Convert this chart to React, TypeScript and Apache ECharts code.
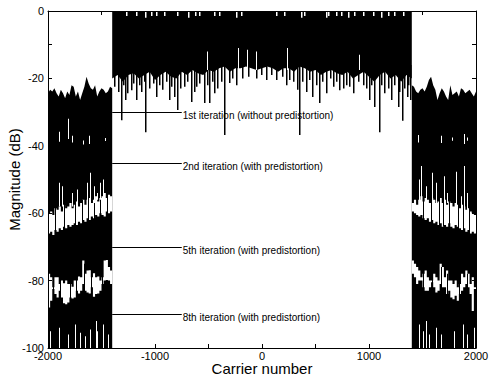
import React, { useEffect, useRef } from "react";
import * as echarts from "echarts";

const FONT = '"Liberation Sans", Arial, Helvetica, sans-serif';

// ---- axes ----
const xMin = -2000;
const xMax = 2000;
const xInterval = 500;
const xLabelEvery = 1000;
const yMin = -100;
const yMax = 0;
const yInterval = 10;
const yLabelEvery = 20;
const xTitle = "Carrier number";
const yTitle = "Magnitude (dB)";

// ---- in-band (carriers -1400..1400): dense part from 0 dB down to a floor ----
const inBandStart = -1400;
const inBandStep = 50;
const inBandFloor = [
  -20, -19, -21, -19, -18.5, -20, -19, -18, -20.5, -19, -18, -19.5, -20, -18, -19,
  -17.5, -18.5, -19, -17.5, -18, -17, -16.5, -18, -17, -17, -16.5, -17, -17.5, -17,
  -16.5, -17, -18, -17, -17, -18, -16.5, -17, -18, -17.5, -19, -18, -17.5, -18.5,
  -19, -18, -20, -19, -18, -19.5, -21, -19, -18, -20, -19, -21, -19, -20,
];
// downward spikes below the in-band floor: [carrier, lowest dB]
const inBandSpikes: number[][] = [
  [-1374, -22.5], [-1340, -24], [-1311, -32.4], [-1290, -22], [-1271, -26.4], [-1252, -24.4],
  [-1218, -23.5], [-1195, -21.5], [-1171, -26.4], [-1145, -22], [-1124, -24], [-1100, -21],
  [-1084, -36], [-1047, -23], [-1010, -21.5], [-984, -25.5], [-955, -22], [-925, -23.4],
  [-890, -21], [-860, -26.4], [-840, -22.5], [-813, -25.5], [-792, -29.4], [-760, -23],
  [-720, -22.5], [-690, -21], [-657, -27], [-630, -24], [-610, -22.5], [-580, -21.5],
  [-533, -27.3], [-510, -22], [-486, -27.3], [-460, -21], [-439, -24.4], [-410, -23],
  [-380, -21], [-346, -36.8], [-299, -21.4], [-270, -20], [-236, -22], [-178, -20],
  [-120, -19.5], [-50, -20], [0, -19], [44, -20.5], [90, -19], [137, -20.5], [190, -19.5],
  [231, -22], [262, -20.5], [300, -21], [336, -23.4], [355, -36.8], [380, -21], [418, -24],
  [450, -20.5], [477, -25.5], [510, -22], [542, -27.3], [570, -21], [605, -24.4], [640, -20],
  [666, -22.5], [700, -21], [729, -23.5], [760, -23], [792, -22], [820, -22.5], [853, -24.4],
  [900, -21], [947, -22], [980, -23], [1009, -26.4], [1030, -22], [1056, -28.5], [1096, -36],
  [1120, -22], [1150, -24.4], [1180, -23], [1212, -26.4], [1240, -22], [1274, -28.5],
  [1290, -24], [1315, -32.6], [1335, -23], [1358, -25.5], [1375, -22], [1390, -26.4],
];
// white gaps reaching up into the in-band block: [carrier, highest dB]
const inBandWhiteUp: number[][] = [
  [-514, -12], [-215, -11], [-131, -11.5], [-47, -12], [234, -11], [907, -13],
];
// small white notches under the 0 dB edge: [carrier, depth dB]
const inBandTopNotches: number[][] = [
  [-1265, -1.5], [-1171, -1.5], [-1084, -2], [-1031, -1.5], [-984, -1.5], [-907, -1.5],
  [-791, -1.5], [-682, -2], [-617, -1.5], [-586, -1.5], [-439, -1.5], [-393, -1.5],
  [-237, -2], [-190, -1.5], [137, -1.5], [215, -1.5], [371, -2], [402, -1.5], [605, -2],
  [620, -1.5], [698, -1.5], [745, -1.5], [807, -2], [869, -1.5], [947, -1.5], [1040, -1.5],
  [1119, -2], [1181, -1.5], [1243, -1.5], [1321, -1.5],
];

// ---- out-of-band: black from -100 dB up to an upper envelope ----
const outStep = 20;
const outLeftStart = -2000;
const outLeftTop = [
  -24.4, -23.4, -23.9, -22.9, -24.4, -25.4, -23.4, -24.4, -25.9, -23.9, -24.9, -22, -22.5,
  -25.4, -23.9, -26.4, -24.4, -22.5, -19.5, -21.5, -22.9, -23.4, -22, -25.4, -23.9, -22.9,
  -23.4, -24.4, -23.9, -22.5, -22.9,
];
const outRightStart = 1400;
const outRightTop = [
  -22, -22.5, -23.9, -24.4, -23.4, -22.9, -23.9, -22.5, -20.5, -19.5, -22, -23.4, -26.4,
  -24.4, -22.9, -23.9, -25.4, -26.4, -22, -24.9, -24.4, -23.9, -25.4, -22.9, -23.4, -24.4,
  -23.9, -23.4, -24.4, -25.4, -23.9,
];

// white gaps near -60 dB (between 2nd and 5th iteration)
const holeStep = 20;
const midLeftTop = [
  -60, -59.5, -60.5, -58.5, -59, -58, -59.5, -57.5, -58.5, -58, -57, -58.5, -57.5, -56.5,
  -58, -57, -56, -57.5, -56, -55.5, -57, -56, -55, -56.5, -55.5, -55, -54, -55.5, -54.5, -55,
];
const midLeftBottom = [
  -66, -65.5, -66.5, -65, -65.5, -64.5, -65, -64, -64.5, -63.5, -64, -63.5, -63, -63.5,
  -62.5, -63, -62, -62.5, -61.5, -62, -61, -61.5, -60.5, -61, -60, -60.5, -61, -59.5, -60, -59.5,
];
const midRightTop = [
  -57, -56, -57.5, -56, -55, -56.5, -55.5, -56, -57, -55.5, -56, -57, -56.5, -55.5, -57,
  -56, -57.5, -56.5, -57, -58, -57, -57.5, -58.5, -57.5, -58, -59, -58.5, -59.5, -60, -60.5,
];
const midRightBottom = [
  -59.5, -60, -60.5, -61, -60.5, -61.5, -62, -61.5, -62.5, -62, -63, -62.5, -63.5, -63,
  -64, -63.5, -64, -63, -64, -64.5, -63.5, -64, -64.5, -65, -64.5, -65.5, -65, -66, -65.5, -66,
];
// white gaps near -82 dB (between 5th and 8th iteration)
const lowLeftTop = [
  -78, -79, -82, -79, -79, -81, -80, -80.8, -80, -81, -81, -81.8, -80, -80, -78.8, -79,
  -74, -78, -77, -76.9, -79, -77.8, -79, -78.8, -80, -79, -74, -73.9, -76, -77,
];
const lowLeftBottom = [
  -88, -86, -82.5, -84, -85, -83, -85, -86.7, -87, -86.5, -85, -85.3, -85, -83, -83.8, -83,
  -81, -83, -83.5, -83.8, -82, -84.8, -84, -83.8, -83, -81, -80, -79.8, -80, -81,
];
const lowRightTop = [
  -74, -75, -76, -77, -79, -78, -77, -79, -80, -80, -78, -79, -80, -75, -76, -79, -77, -80,
  -80, -81, -80, -82, -81, -78, -79, -77, -78, -81, -79, -82,
];
const lowRightBottom = [
  -78, -79, -81, -80, -80, -82, -83, -83, -82, -80.5, -82, -83.5, -83, -81, -82, -82, -84,
  -83, -85, -85.5, -84.5, -86, -84, -83, -82, -81, -82, -84, -89, -82.5,
];
// black traces crossing those white gaps: [carrier, low dB, high dB]
const blackTracesOut: number[][] = [
  [-1928, -67, -57], [-1850, -66, -55], [-1741, -65, -54], [-1679, -64, -56],
  [-1617, -63, -53], [-1570, -62, -55], [-1508, -62, -52], [-1446, -61, -54],
  [1505, -62, -53], [1583, -63, -55], [1661, -64, -52], [1692, -64, -56],
  [1754, -65, -54], [1832, -65, -55], [1879, -66, -57], [1941, -67, -56],
  [-1944, -89, -76], [-1881, -88, -77], [-1794, -88, -78], [-1732, -86, -77],
  [-1657, -85, -75], [-1595, -85, -76], [-1493, -83, -72],
  [1505, -84, -74], [1598, -85, -77], [1676, -86, -76], [1738, -86, -78],
  [1847, -88, -79], [1925, -88, -78],
];
// thin white spikes in the out-of-band regions: [carrier, low dB, high dB]
const whiteSpikesLeft: number[][] = [
  [-1975, -100, -95], [-1897, -100, -94], [-1804, -100, -96], [-1741, -100, -93],
  [-1694, -100, -95.5], [-1648, -100, -96.5], [-1601, -100, -94.5], [-1545, -100, -92],
  [-1535, -100, -95], [-1477, -100, -93], [-1430, -100, -96],
  [-1897, -58, -51], [-1860, -58, -52], [-1773, -58, -54], [-1726, -58, -53],
  [-1633, -57, -51], [-1601, -57, -48], [-1570, -57, -52], [-1539, -56, -54],
  [-1508, -56, -51], [-1477, -56, -50],
  [-1897, -38.8, -35.8], [-1804, -38, -32], [-1775, -39, -37], [-1670, -39.6, -38.4],
  [-1610, -39.5, -37], [-1461, -38.6, -37.7],
];
const whiteSpikesRight: number[][] = [
  [1474, -100, -93], [1505, -100, -95], [1536, -100, -92], [1568, -100, -96],
  [1629, -100, -94], [1676, -100, -96], [1801, -100, -95], [1879, -100, -93],
  [1925, -100, -96], [1988, -100, -94],
  [1474, -57, -50], [1495, -57, -46], [1536, -57, -52], [1598, -57, -48], [1629, -57, -51],
  [1707, -57, -49], [1738, -57, -54], [1816, -58, -47.7], [1863, -58, -55],
  [1894, -59, -46], [1925, -59, -54],
  [1458, -39, -36.8], [1676, -39.2, -37], [1785, -38.5, -37.5], [1894, -39.5, -36.5],
  [1925, -38.5, -37.5],
];

// ---- annotations ----
const annotationFrom = -1400;
const annotationTo = -750;
const annotationLevels = [-30, -45, -70, -90];
const annotationLabels = [
  "1st iteration (without predistortion)",
  "2nd iteration (with predistortion)",
  "5th iteration (with predistortion)",
  "8th iteration (with predistortion)",
];

function polygonSeries(pts: number[][], fill: string) {
  return {
    type: "custom",
    silent: true,
    data: [pts[0]],
    renderItem: (_p: any, api: any) => ({
      type: "polygon",
      shape: { points: pts.map((p) => api.coord(p)) },
      style: { fill },
    }),
  };
}

// stepped outline of a band: constant top/bottom over each step
function stepBandPoints(start: number, step: number, top: number[], bottom: number[]) {
  const upper: number[][] = [];
  const lower: number[][] = [];
  top.forEach((t, i) => {
    upper.push([start + step * i, t], [start + step * (i + 1), t]);
    lower.push([start + step * i, bottom[i]], [start + step * (i + 1), bottom[i]]);
  });
  return [...upper, ...lower.reverse()];
}

function spikesSeries(items: number[][], fill: string, w: number) {
  return {
    type: "custom",
    silent: true,
    data: items,
    encode: { x: 0, y: [1, 2] },
    renderItem: (_p: any, api: any) => {
      const top = api.coord([api.value(0), api.value(2)]);
      const bot = api.coord([api.value(0), api.value(1)]);
      return {
        type: "rect",
        shape: { x: Math.round(top[0] - w / 2), y: top[1], width: w, height: bot[1] - top[1] },
        style: { fill },
      };
    },
  };
}

export default function App() {
  const ref = useRef<HTMLDivElement>(null);
  useEffect(() => {
    const chart = echarts.init(ref.current!, null, { renderer: "svg" });

    const outLeftPts = [
      [outLeftStart, yMin],
      ...outLeftTop.map((v, i) => [outLeftStart + outStep * i, v]),
      [outLeftStart + outStep * (outLeftTop.length - 1), yMin],
    ];
    const outRightPts = [
      [outRightStart, yMin],
      ...outRightTop.map((v, i) => [outRightStart + outStep * i, v]),
      [outRightStart + outStep * (outRightTop.length - 1), yMin],
    ];
    const inBandEnd = inBandStart + inBandStep * (inBandFloor.length - 1);
    const inBandPts = [
      [inBandStart, 0],
      [inBandEnd, 0],
      ...inBandFloor.map((v, i) => [inBandStart + inBandStep * i, v]).reverse(),
    ];
    const blackSpikes = inBandSpikes.map(([x, d]) => [x, d, -16]);
    const whiteUp = inBandWhiteUp.map(([x, t]) => [x, -17.5, t]);
    const notches = inBandTopNotches.map(([x, d]) => [x, d, 0]);
    const annData = annotationLevels.map((lv, i) => [annotationFrom, lv, annotationTo, i]);

    const axisCommon = {
      axisLine: { show: true, onZero: false, lineStyle: { color: "#000", width: 1 } },
      axisTick: { show: true, inside: true, length: 4, lineStyle: { color: "#000" } },
      splitLine: { show: false },
      z: 10,
    };

    const option: any = {
      animation: false,
      backgroundColor: "#fff",
      grid: {
        left: 48,
        right: 13,
        top: 11,
        bottom: 28,
        containLabel: false,
        outerBoundsMode: "none",
      },
      xAxis: [
        {
          type: "value",
          min: xMin,
          max: xMax,
          interval: xInterval,
          position: "bottom",
          ...axisCommon,
          axisLabel: {
            color: "#000",
            fontSize: 11,
            fontFamily: FONT,
            margin: 2,
            hideOverlap: false,
            formatter: (v: number) => (v % xLabelEvery === 0 ? String(v) : ""),
          },
          name: xTitle,
          nameLocation: "middle",
          nameGap: 13,
          nameMoveOverlap: false,
          nameTextStyle: { color: "#000", fontSize: 15, fontFamily: FONT },
        },
        {
          type: "value",
          min: xMin,
          max: xMax,
          interval: xInterval,
          position: "top",
          ...axisCommon,
          axisLabel: { show: false },
        },
      ],
      yAxis: [
        {
          type: "value",
          min: yMin,
          max: yMax,
          interval: yInterval,
          position: "left",
          ...axisCommon,
          axisLabel: {
            color: "#000",
            fontSize: 11,
            fontFamily: FONT,
            margin: 4,
            hideOverlap: false,
            formatter: (v: number) => (v % yLabelEvery === 0 ? String(v) : ""),
          },
          name: yTitle,
          nameLocation: "middle",
          nameGap: 26,
          nameMoveOverlap: false,
          nameTextStyle: { color: "#000", fontSize: 15, fontFamily: FONT },
        },
        {
          type: "value",
          min: yMin,
          max: yMax,
          interval: yInterval,
          position: "right",
          ...axisCommon,
          axisLabel: { show: false },
        },
      ],
      series: [
        polygonSeries(outLeftPts, "#000"),
        polygonSeries(outRightPts, "#000"),
        polygonSeries(inBandPts, "#000"),
        spikesSeries(blackSpikes, "#000", 1.5),
        polygonSeries(stepBandPoints(outLeftStart, holeStep, midLeftTop, midLeftBottom), "#fff"),
        polygonSeries(stepBandPoints(outRightStart, holeStep, midRightTop, midRightBottom), "#fff"),
        polygonSeries(stepBandPoints(outLeftStart, holeStep, lowLeftTop, lowLeftBottom), "#fff"),
        polygonSeries(stepBandPoints(outRightStart, holeStep, lowRightTop, lowRightBottom), "#fff"),
        spikesSeries(blackTracesOut, "#000", 1),
        spikesSeries(whiteSpikesLeft, "#fff", 1),
        spikesSeries(whiteSpikesRight, "#fff", 1),
        spikesSeries(whiteUp, "#fff", 1),
        spikesSeries(notches, "#fff", 1.5),
        {
          type: "custom",
          silent: true,
          data: annData,
          encode: { x: [0, 2], y: 1 },
          renderItem: (_p: any, api: any) => {
            const a = api.coord([api.value(0), api.value(1)]);
            const b = api.coord([api.value(2), api.value(1)]);
            const label = annotationLabels[api.value(3)];
            return {
              type: "group",
              children: [
                {
                  type: "line",
                  shape: { x1: a[0], y1: Math.round(a[1]) + 0.5, x2: b[0], y2: Math.round(b[1]) + 0.5 },
                  style: { stroke: "#000", lineWidth: 1 },
                },
                {
                  type: "text",
                  x: b[0] + 1,
                  y: b[1] - 1.5,
                  style: {
                    text: label,
                    fill: "#000",
                    fontSize: 10,
                    fontFamily: FONT,
                    align: "left",
                    verticalAlign: "top",
                  },
                },
              ],
            };
          },
        },
      ],
    };
    chart.setOption(option);
    return () => chart.dispose();
  }, []);
  return (
    <div
      ref={ref}
      style={{ position: "fixed", left: 0, top: 0, width: 489, height: 376, background: "#fff" }}
    />
  );
}
